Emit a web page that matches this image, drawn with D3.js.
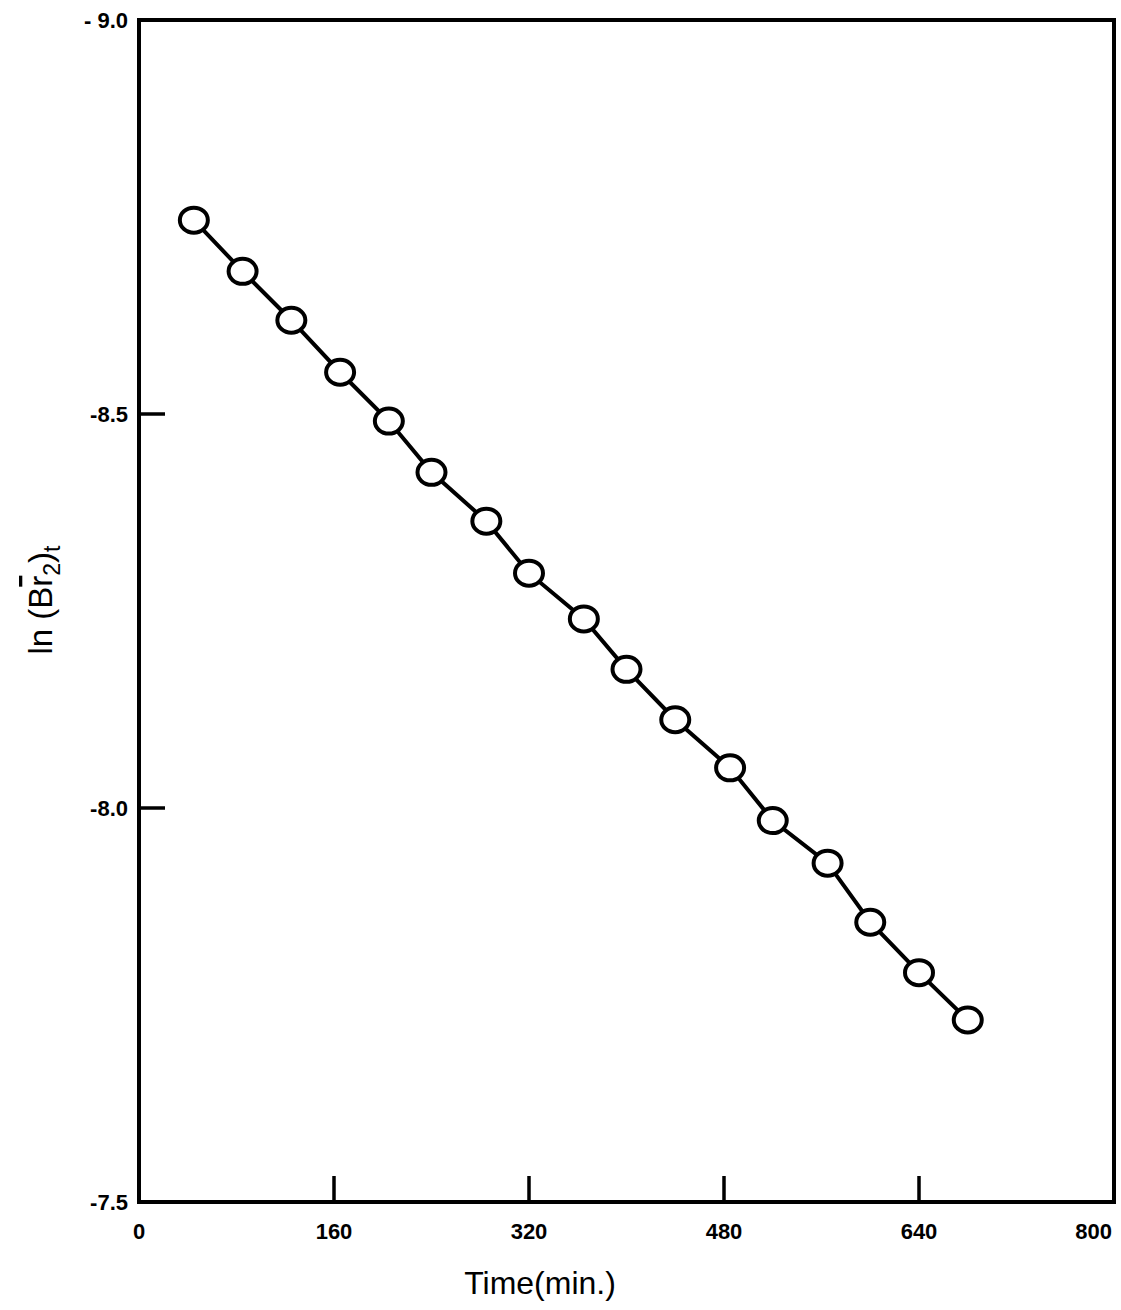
<!DOCTYPE html>
<html>
<head>
<meta charset="utf-8">
<script src="https://cdn.jsdelivr.net/npm/d3@7"></script>
<style>
  body { margin: 0; background: #fff; }
  svg { display: block; }
</style>
</head>
<body>
<svg id="chart"></svg>
<script>
// readings (time in min, ln of concentration)
const times = [45, 85, 125, 165, 205, 240, 285, 320, 365, 400, 440, 485, 520, 565, 600, 640, 680];
const lnValues = [-8.746, -8.681, -8.619, -8.553, -8.491, -8.426, -8.364, -8.298, -8.240,
    -8.176, -8.112, -8.051, -7.984, -7.930, -7.855, -7.791, -7.731];
const xTicks = [0, 160, 320, 480, 640, 800];
const yTicks = [-9.0, -8.5, -8.0, -7.5];
const yTickLabels = ["- 9.0", "-8.5", "-8.0", "-7.5"];

const WIDTH = 1121, HEIGHT = 1310;
const plotLeft = 139, plotRight = 1114, plotTop = 20, plotBottom = 1202;

const svg = d3.select("#chart")
    .attr("width", WIDTH)
    .attr("height", HEIGHT);

const x = d3.scaleLinear().domain([0, 800]).range([plotLeft, plotRight]);
const y = d3.scaleLinear().domain([-9.0, -7.5]).range([plotTop, plotBottom]);

// frame
svg.append("rect")
    .attr("x", plotLeft).attr("y", plotTop)
    .attr("width", plotRight - plotLeft).attr("height", plotBottom - plotTop)
    .style("fill", "none")
    .style("stroke", "#000")
    .style("stroke-width", 4);

// inner ticks
svg.selectAll("line.xtick")
    .data(xTicks.filter(d => d > 0 && d < 800))
    .enter().append("line")
    .attr("class", "xtick")
    .attr("x1", d => x(d)).attr("x2", d => x(d))
    .attr("y1", plotBottom).attr("y2", plotBottom - 26)
    .style("stroke", "#000").style("stroke-width", 3.5);

svg.selectAll("line.ytick")
    .data(yTicks.filter(d => d > -9.0 && d < -7.5))
    .enter().append("line")
    .attr("class", "ytick")
    .attr("x1", plotLeft).attr("x2", plotLeft + 26)
    .attr("y1", d => y(d)).attr("y2", d => y(d))
    .style("stroke", "#000").style("stroke-width", 3.5);

// tick labels
svg.selectAll("text.xlab")
    .data(xTicks)
    .enter().append("text")
    .attr("class", "xlab")
    .attr("x", d => d === 800 ? x(d) - 2 : x(d))
    .attr("y", plotBottom + 37)
    .attr("text-anchor", d => d === 800 ? "end" : "middle")
    .style("font-family", "Liberation Sans, Arial, sans-serif")
    .style("font-weight", "bold")
    .style("font-size", "22px")
    .text(d => d);

svg.selectAll("text.ylab")
    .data(yTicks)
    .enter().append("text")
    .attr("class", "ylab")
    .attr("x", plotLeft - 11)
    .attr("y", d => y(d) + 8)
    .attr("text-anchor", "end")
    .style("font-family", "Liberation Sans, Arial, sans-serif")
    .style("font-weight", "bold")
    .style("font-size", "22px")
    .text((d, i) => yTickLabels[i]);

// axis titles
svg.append("text")
    .attr("x", 540)
    .attr("y", 1294)
    .attr("text-anchor", "middle")
    .style("font-family", "Liberation Sans, Arial, sans-serif")
    .style("font-size", "32px")
    .text("Time(min.)");

const yTitle = svg.append("text")
    .attr("transform", "translate(52,600) rotate(-90)")
    .attr("text-anchor", "middle")
    .style("font-family", "Liberation Sans, Arial, sans-serif")
    .style("font-size", "33px");
yTitle.append("tspan").text("ln (B");
yTitle.append("tspan").style("text-decoration", "overline").text("r");
yTitle.append("tspan").attr("dy", 8).style("font-size", "23px").text("2");
yTitle.append("tspan").attr("dy", -8).text(")");
yTitle.append("tspan").attr("dy", 8).style("font-size", "23px").text("t");

// connecting line
const line = d3.line()
    .x((d, i) => x(times[i]))
    .y(d => y(d))
    .curve(d3.curveLinear);

svg.append("path")
    .datum(lnValues)
    .attr("d", line)
    .style("fill", "none")
    .style("stroke", "#000")
    .style("stroke-width", 4);

// open markers
svg.selectAll("ellipse")
    .data(lnValues)
    .enter().append("ellipse")
    .attr("cx", (d, i) => x(times[i]))
    .attr("cy", d => y(d))
    .attr("rx", 14)
    .attr("ry", 12.5)
    .style("fill", "#fff")
    .style("stroke", "#000")
    .style("stroke-width", 4);
</script>
</body>
</html>
